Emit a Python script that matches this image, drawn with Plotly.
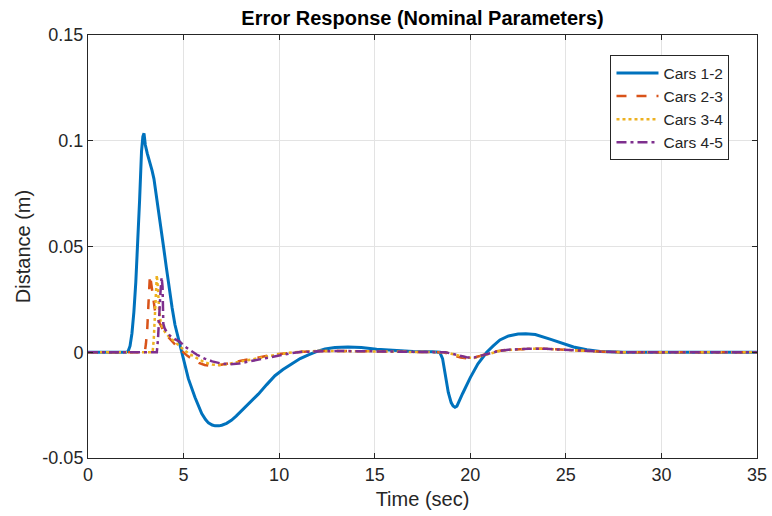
import plotly.graph_objects as go

# ---- data ----
t_12 = [0, 2.0, 2.1, 2.2, 2.3, 2.4, 2.5, 2.6, 2.7, 2.8, 2.87, 2.93, 3.0, 3.1, 3.24, 3.35, 3.45, 3.6,
        3.8, 3.95, 4.1, 4.25, 4.4, 4.55, 4.72, 4.85, 5.0, 5.25, 5.6, 5.95, 6.15, 6.3, 6.5, 6.65, 6.85,
        7.0, 7.25, 7.5, 7.75, 8.04, 8.5, 8.91, 9.35, 9.78, 10.2, 10.66, 11.1, 11.53, 11.95, 12.4,
        12.92, 13.6, 14.3, 15.1, 16.0, 17.0, 18.0, 18.4, 18.55, 18.7, 18.85, 19.0, 19.1, 19.2, 19.3,
        19.6, 20.0, 20.4, 20.86, 21.2, 21.55, 22.0, 22.5, 22.9, 23.4, 24.17, 24.8, 25.4, 26.1, 26.8,
        28.0, 35]
v_12 = [0, 0, 0.0005, 0.003, 0.009, 0.019, 0.033, 0.05, 0.072, 0.095, 0.102, 0.1035, 0.098, 0.094,
        0.09, 0.086, 0.082, 0.073, 0.06, 0.05, 0.04, 0.03, 0.021, 0.013, 0.007, 0.0015, -0.004,
        -0.0125, -0.0214, -0.029, -0.0318, -0.0334, -0.0344, -0.0348, -0.0348, -0.0345, -0.0336,
        -0.0322, -0.0302, -0.0277, -0.0237, -0.0198, -0.0153, -0.0111, -0.0082, -0.0056, -0.003,
        -0.0012, 0.0003, 0.0015, 0.0022, 0.0025, 0.0022, 0.0014, 0.0008, 0.0004, 0.0002, 0, -0.003,
        -0.011, -0.019, -0.0238, -0.0254, -0.026, -0.0255, -0.0195, -0.012, -0.0055, 0.0, 0.003,
        0.0058, 0.0077, 0.0086, 0.0088, 0.0084, 0.0062, 0.0043, 0.0025, 0.0012, 0.0004, 0, 0]

t_23 = [0, 2.97, 3.03, 3.1, 3.18, 3.24, 3.3, 3.4, 3.5, 3.65, 3.8, 3.95, 4.2, 4.45, 4.7, 4.95, 5.2,
        5.5, 5.8, 6.1, 6.45, 6.8, 7.2, 7.6, 8.0, 8.5, 9.0, 9.5, 10.0, 10.5, 11.0, 11.5, 12.0, 12.5,
        13.5, 15.0, 16.5, 18.0, 18.6, 18.9, 19.2, 19.5, 19.8, 20.1, 20.5, 20.9, 21.3, 21.8, 22.4,
        23.2, 24.0, 25.0, 26.0, 27.0, 28.0, 35]
v_23 = [0, 0, 0.004, 0.011, 0.026, 0.0365, 0.033, 0.026, 0.02, 0.0155, 0.0125, 0.0102, 0.0072,
        0.0045, 0.0022, 0.0003, -0.0017, -0.0035, -0.005, -0.006, -0.0064, -0.0062, -0.0056, -0.0048,
        -0.004, -0.0031, -0.0023, -0.0015, -0.0008, -0.0003, 0.0001, 0.0004, 0.0006, 0.0007, 0.0006,
        0.0004, 0.0002, 0.0001, 0, -0.0008, -0.0018, -0.0025, -0.0028, -0.0027, -0.0018, -0.0006,
        0.0004, 0.0011, 0.0015, 0.0017, 0.0016, 0.0011, 0.0006, 0.0002, 0, 0]

t_34 = [0, 3.38, 3.44, 3.5, 3.56, 3.6, 3.66, 3.72, 3.8, 3.9, 4.1, 4.4, 4.7, 5.0, 5.3, 5.7, 6.1, 6.5,
        6.9, 7.3, 7.8, 8.3, 8.9, 9.5, 10.0, 10.5, 11.2, 12.0, 13.0, 15.0, 16.5, 18.0, 18.7, 19.0,
        19.4, 19.8, 20.2, 20.6, 21.0, 21.5, 22.0, 23.0, 24.0, 25.0, 26.0, 27.0, 28.0, 35]
v_34 = [0, 0, 0.006, 0.02, 0.033, 0.0365, 0.03, 0.02, 0.0145, 0.0115, 0.0085, 0.006, 0.0035, 0.0012,
        -0.0008, -0.003, -0.0048, -0.0058, -0.006, -0.0056, -0.0047, -0.0037, -0.0026, -0.0016,
        -0.0009, -0.0003, 0.0003, 0.0006, 0.0006, 0.0004, 0.0002, 0.0001, 0, -0.0007, -0.0017,
        -0.0025, -0.0027, -0.0018, -0.0006, 0.0005, 0.0011, 0.0016, 0.0016, 0.0011, 0.0006, 0.0002,
        0, 0]

t_45 = [0, 3.6, 3.66, 3.72, 3.79, 3.85, 3.9, 3.94, 4.0, 4.1, 4.29, 4.55, 4.81, 5.1, 5.4, 5.7, 6.1,
        6.5, 7.0, 7.4, 7.9, 8.3, 8.9, 9.5, 10.0, 10.6, 11.2, 12.0, 13.0, 15.0, 16.5, 18.0, 18.7, 19.0,
        19.4, 19.8, 20.2, 20.6, 21.0, 21.5, 22.0, 23.0, 24.0, 25.0, 26.0, 27.0, 28.0, 35]
v_45 = [0, 0, 0.006, 0.018, 0.028, 0.0355, 0.031, 0.0135, 0.0115, 0.0098, 0.0078, 0.0062, 0.0049,
        0.0025, 0.0005, -0.0012, -0.003, -0.0043, -0.0054, -0.0057, -0.0053, -0.0046, -0.0034,
        -0.0022, -0.0013, -0.0005, 0.0002, 0.0005, 0.0006, 0.0004, 0.0002, 0.0001, 0, -0.0006,
        -0.0016, -0.0024, -0.0025, -0.0016, -0.0005, 0.0006, 0.0012, 0.0016, 0.0016, 0.0011, 0.0006,
        0.0002, 0, 0]

names = ["Cars 1-2", "Cars 2-3", "Cars 3-4", "Cars 4-5"]
colors = ["#0072BD", "#D95319", "#EDB120", "#7E2F8E"]
dashes = ["solid", "10px,10px", "3px,3px", "10px,4px,3px,4px"]
widths = [3, 2.5, 2.5, 2.5]

x_ticks = [0, 5, 10, 15, 20, 25, 30, 35]
y_ticks = [-0.05, 0, 0.05, 0.1, 0.15]
y_tick_labels = ["-0.05", "0", "0.05", "0.1", "0.15"]

FONT = "Liberation Sans, Arial, Helvetica, sans-serif"
AX = "#262626"

fig = go.Figure()
for t, v, n, c, d, w in zip([t_12, t_23, t_34, t_45], [v_12, v_23, v_34, v_45], names, colors, dashes, widths):
    fig.add_trace(go.Scatter(x=t, y=v, mode="lines", name=n,
                             line=dict(color=c, width=w, dash=d)))

axis_common = dict(showline=True, linecolor=AX, linewidth=1, mirror="ticks", ticks="inside",
                   ticklen=5, tickcolor=AX, showgrid=True, gridcolor="#e3e3e3", gridwidth=1,
                   zeroline=False, automargin=False,
                   tickfont=dict(family=FONT, size=18, color=AX))

fig.update_layout(
    width=772, height=516,
    margin=dict(l=88, r=15, t=35, b=58),
    paper_bgcolor="white", plot_bgcolor="white",
    title=dict(text="<b>Error Response (Nominal Parameters)</b>", x=0.5, xref="paper",
               y=1 - 18 / 516, yref="container", yanchor="middle", xanchor="center",
               font=dict(family=FONT, size=20, color="black")),
    xaxis=dict(range=[0, 35], tickvals=x_ticks,
               title=dict(text="Time (sec)", font=dict(family=FONT, size=20, color=AX), standoff=8),
               **axis_common),
    yaxis=dict(range=[-0.05, 0.15], tickvals=y_ticks, ticktext=y_tick_labels,
               title=dict(text="Distance (m)", font=dict(family=FONT, size=20, color=AX), standoff=6),
               **axis_common),
    legend=dict(x=0.781, y=0.952, xanchor="left", yanchor="top", bgcolor="white",
                bordercolor=AX, borderwidth=1, font=dict(family=FONT, size=15.5, color=AX),
                itemwidth=42, tracegroupgap=0),
    showlegend=True,
)

fig.write_html("out.html")
